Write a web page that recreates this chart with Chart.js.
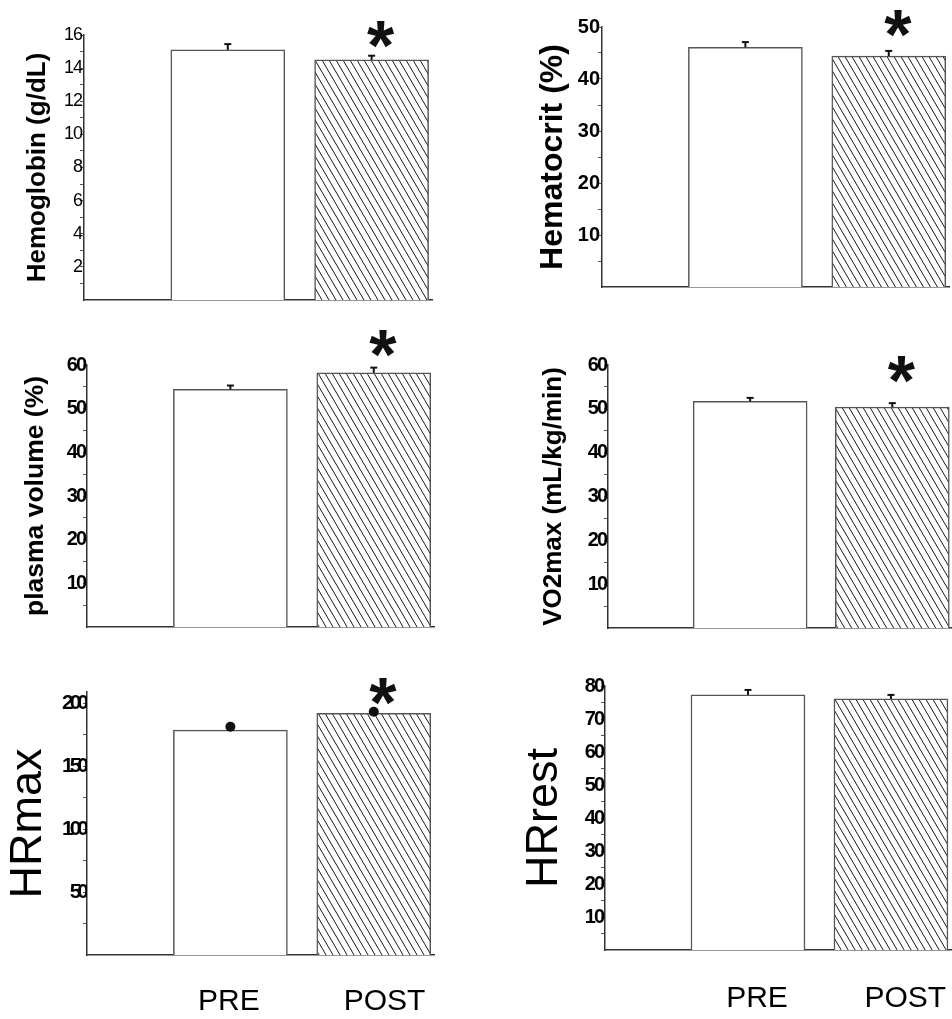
<!DOCTYPE html>
<html>
<head>
<meta charset="utf-8">
<title>Blood and fitness markers, PRE vs POST</title>
<script src="https://cdn.jsdelivr.net/npm/chart.js@4.4.1/dist/chart.umd.min.js"></script>
<style>
    body { margin: 0; background: #ffffff; }
    #page { position: relative; width: 952px; height: 1019px; overflow: hidden; }
    #page canvas { position: absolute; }
</style>
</head>
<body>
<div id="page">
    <canvas id="hbChart"></canvas>
    <canvas id="hctChart"></canvas>
    <canvas id="pvChart"></canvas>
    <canvas id="vo2Chart"></canvas>
    <canvas id="hrmaxChart"></canvas>
    <canvas id="hrrestChart"></canvas>
</div>
<script>
// -----------------------------
// Data
// -----------------------------
const groups = ['PRE', 'POST'];
const groupPos = [1, 2];

const hemoglobinMean = [15.1, 14.5];
const hemoglobinErr = [0.35, 0.25];
const hemoglobinTicks = [2, 4, 6, 8, 10, 12, 14, 16];

const hematocritMean = [46.1, 44.4];
const hematocritErr = [1.0, 1.0];
const hematocritTicks = [10, 20, 30, 40, 50];

const plasmaMean = [54.4, 58.2];
const plasmaErr = [0.9, 1.2];
const plasmaTicks = [10, 20, 30, 40, 50, 60];

const vo2Mean = [51.7, 50.4];
const vo2Err = [0.8, 0.9];
const vo2Ticks = [10, 20, 30, 40, 50, 60];

const hrmaxMean = [178.7, 192.0];
const hrmaxErr = [2.7, 1.3];
const hrmaxTicks = [50, 100, 150, 200];

const hrrestMean = [77.3, 76.1];
const hrrestErr = [1.5, 1.2];
const hrrestTicks = [10, 20, 30, 40, 50, 60, 70, 80];

// which POST bars carry the significance star
const hemoglobinSig = [false, true];
const hematocritSig = [false, true];
const plasmaSig = [false, true];
const vo2Sig = [false, true];
const hrmaxSig = [false, true];
const hrrestSig = [false, false];

// -----------------------------
// Look
// -----------------------------
const sans = "'Liberation Sans', Arial, Helvetica, sans-serif";
const axisColor = '#333333';
const barEdge = '#555555';

Chart.defaults.font.family = sans;
Chart.defaults.color = '#000000';

// diagonal hatch for the POST bars
function makeHatch() {
    const tile = document.createElement('canvas');
    tile.width = 7;
    tile.height = 12;
    const c = tile.getContext('2d');
    c.fillStyle = '#ffffff';
    c.fillRect(0, 0, 7, 12);
    c.strokeStyle = '#1a1a1a';
    c.lineWidth = 1;
    [-7, 0, 7].forEach(dx => {
        c.beginPath();
        c.moveTo(dx, 0);
        c.lineTo(dx + 7, 12);
        c.stroke();
    });
    return c.createPattern(tile, 'repeat');
}
const hatch = makeHatch();

// error bars + asterisk drawn on top of the bars
function marksPlugin(mean, err, sig, dots, starGap) {
    return {
        id: 'marks',
        afterDatasetsDraw(chart) {
            const {ctx} = chart;
            const y = chart.scales.y;
            const bars = chart.getDatasetMeta(0).data;
            ctx.save();
            bars.forEach((bar, i) => {
                const yTop = y.getPixelForValue(mean[i] + err[i]);
                ctx.strokeStyle = '#111111';
                ctx.fillStyle = '#111111';
                ctx.lineWidth = 2;
                ctx.beginPath();
                ctx.moveTo(bar.x, bar.y);
                ctx.lineTo(bar.x, yTop);
                ctx.stroke();
                if (dots) {
                    ctx.beginPath();
                    ctx.arc(bar.x, yTop, 5, 0, Math.PI * 2);
                    ctx.fill();
                } else {
                    ctx.beginPath();
                    ctx.moveTo(bar.x - 3.5, yTop);
                    ctx.lineTo(bar.x + 3.5, yTop);
                    ctx.stroke();
                }
                if (sig[i]) {
                    const size = 70;
                    ctx.font = `bold ${size}px ${sans}`;
                    ctx.textAlign = 'center';
                    ctx.textBaseline = 'alphabetic';
                    ctx.fillText('*', bar.x + 9, yTop - starGap + size * 0.56);
                }
            });
            ctx.restore();
        }
    };
}

// squeezes the y tick digits together (labels are drawn after the bars, z: 1)
function tickSpacingPlugin(spacing) {
    return {
        id: 'tickSpacing',
        afterDatasetsDraw(chart) { chart.ctx.letterSpacing = spacing; },
        afterDraw(chart) { chart.ctx.letterSpacing = '0px'; }
    };
}

// -----------------------------
// One panel = one chart
// box: canvas rect on the page, area: plot rect on the page
// -----------------------------
function makePanel(p) {
    const canvas = document.getElementById(p.id);
    const [bx, by, bw, bh] = p.box;
    const [al, at, ar, ab] = p.area;
    canvas.width = bw;
    canvas.height = bh;
    canvas.style.left = bx + 'px';
    canvas.style.top = by + 'px';

    const labelSet = new Set(p.ticks);
    const step = p.ticks[1] - p.ticks[0];
    const tickValues = [];
    p.ticks.forEach(v => {
        tickValues.push(v - step / 2);
        tickValues.push(v);
    });
    const shift = p.labelShift || [0, 0];

    return new Chart(canvas, {
        type: 'bar',
        data: {
            datasets: [{
                data: groupPos.map((x, i) => ({x: x, y: p.mean[i]})),
                backgroundColor: ['#ffffff', hatch],
                borderColor: barEdge,
                borderWidth: 1.5,
                barThickness: 114,
                borderSkipped: 'bottom'
            }]
        },
        options: {
            responsive: false,
            animation: false,
            events: [],
            layout: {
                padding: {left: 0, top: at - by, right: bx + bw - ar, bottom: 0}
            },
            plugins: {
                legend: {display: false},
                tooltip: {enabled: false}
            },
            scales: {
                x: {
                    type: 'linear',
                    min: 0,
                    max: 2.42,
                    offset: false,
                    // invisible tick marks push the PRE/POST labels down
                    grid: {
                        display: true,
                        offset: false,
                        drawOnChartArea: false,
                        drawTicks: true,
                        tickLength: p.labelDrop || 30,
                        color: 'rgba(0,0,0,0)'
                    },
                    border: {display: true, color: axisColor, width: 1.5},
                    afterBuildTicks: s => { s.ticks = groupPos.map((v, i) => ({value: v + shift[i]})); },
                    afterFit: s => { s.height = by + bh - ab; },
                    ticks: {
                        display: !!p.showGroups,
                        autoSkip: false,
                        maxRotation: 0,
                        padding: 0,
                        font: {family: sans, size: 30},
                        color: '#000000',
                        callback: (v, i) => groups[i] || ''
                    }
                },
                y: {
                    min: 0,
                    max: p.max,
                    grid: {
                        display: true,
                        drawOnChartArea: false,
                        drawTicks: true,
                        tickLength: 4,
                        color: '#555555',
                        lineWidth: 1
                    },
                    border: {display: true, color: axisColor, width: 1.5},
                    afterBuildTicks: s => { s.ticks = tickValues.map(v => ({value: v})); },
                    afterFit: s => { s.width = al - bx; },
                    ticks: {
                        autoSkip: false,
                        padding: -2,
                        z: 1,
                        font: p.tickFont,
                        color: '#000000',
                        callback: v => labelSet.has(v) ? String(v) : ''
                    },
                    title: {
                        display: true,
                        text: p.title,
                        font: p.titleFont,
                        color: '#000000',
                        padding: {top: p.titlePad, bottom: 0}
                    }
                }
            }
        },
        plugins: [
            marksPlugin(p.mean, p.err, p.sig, p.dots, p.starGap || 28),
            tickSpacingPlugin(p.tickSpacing || '0px')
        ]
    });
}

const boldTicks = {family: sans, size: 20, weight: 'bold', lineHeight: 1};

makePanel({
    id: 'hbChart', box: [0, 0, 476, 320], area: [84, 35, 432, 300],
    mean: hemoglobinMean, err: hemoglobinErr, sig: hemoglobinSig, starGap: 25,
    ticks: hemoglobinTicks, max: 16,
    tickFont: {family: sans, size: 18, lineHeight: 1}, tickSpacing: '-1px',
    title: 'Hemoglobin (g/dL)', titleFont: {family: sans, size: 26, weight: 'bold', lineHeight: 1}, titlePad: 25
});

makePanel({
    id: 'hctChart', box: [476, 0, 476, 320], area: [602, 27, 949, 287],
    mean: hematocritMean, err: hematocritErr, sig: hematocritSig, starGap: 31,
    ticks: hematocritTicks, max: 50,
    tickFont: boldTicks,
    title: 'Hematocrit (%)', titleFont: {family: sans, size: 32, weight: 'bold', lineHeight: 1}, titlePad: 61
});

makePanel({
    id: 'pvChart', box: [0, 320, 476, 340], area: [87, 365, 434, 627],
    mean: plasmaMean, err: plasmaErr, sig: plasmaSig, starGap: 28,
    ticks: plasmaTicks, max: 60,
    tickFont: boldTicks, tickSpacing: '-2px',
    title: 'plasma volume (%)', titleFont: {family: sans, size: 26.5, weight: 'bold', lineHeight: 1}, titlePad: 22
});

makePanel({
    id: 'vo2Chart', box: [476, 320, 476, 340], area: [608, 365, 952, 628],
    mean: vo2Mean, err: vo2Err, sig: vo2Sig, starGap: 37,
    ticks: vo2Ticks, max: 60,
    tickFont: boldTicks, tickSpacing: '-2px',
    title: 'VO2max (mL/kg/min)', titleFont: {family: sans, size: 26, weight: 'bold', lineHeight: 1}, titlePad: 65
});

makePanel({
    id: 'hrmaxChart', box: [0, 660, 476, 359], area: [87, 692, 434, 955],
    mean: hrmaxMean, err: hrmaxErr, sig: hrmaxSig, dots: true, starGap: 24,
    ticks: hrmaxTicks, max: 209,
    tickFont: {family: sans, size: 21, weight: 'bold', lineHeight: 1}, tickSpacing: '-4px',
    title: 'HRmax', titleFont: {family: sans, size: 45, lineHeight: 1}, titlePad: 6,
    showGroups: true, labelShift: [-0.01, 0.075], labelDrop: 29
});

makePanel({
    id: 'hrrestChart', box: [476, 660, 476, 359], area: [605, 686, 951, 950],
    mean: hrrestMean, err: hrrestErr, sig: hrrestSig,
    ticks: hrrestTicks, max: 80,
    tickFont: boldTicks, tickSpacing: '-2px',
    title: 'HRrest', titleFont: {family: sans, size: 45, lineHeight: 1}, titlePad: 46,
    showGroups: true, labelShift: [0.063, 0.10], labelDrop: 31
});
</script>
</body>
</html>
